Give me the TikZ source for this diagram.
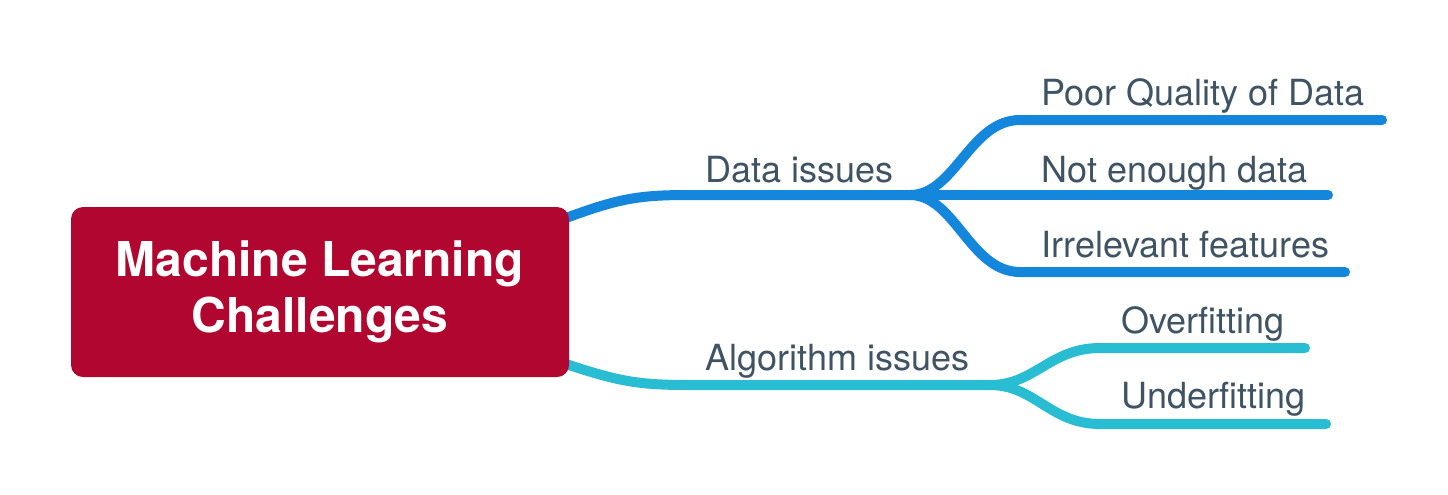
\documentclass[tikz,border=0pt]{standalone}
\usepackage{fontspec}
\setmainfont{TeX Gyre Heros}
\usepackage{tikz}
\usetikzlibrary{backgrounds}
\definecolor{mlred}{RGB}{176,6,48}
\definecolor{mlblue}{RGB}{20,135,220}
\definecolor{mlcyan}{RGB}{40,189,211}
\definecolor{mltext}{RGB}{62,83,99}

\begin{document}
\begin{tikzpicture}[x=0.5pt, y=-0.5pt,
    root/.style={fill=mlred, text=white, rounded corners=6pt, align=center,
      minimum width=249pt, minimum height=85pt, inner sep=0pt,
      font=\bfseries\fontsize{24}{28}\selectfont},
    lbl/.style={anchor=base west, inner sep=0pt, text=mltext,
      font=\fontsize{18}{20}\selectfont},
    databr/.style={line width=5pt, mlblue, line cap=round},
    algbr/.style={line width=5pt, mlcyan, line cap=round}]
      \useasboundingbox (0,0) rectangle (1448,494);

      \node [root] (root) at (320,292) {\raisebox{-3pt}{\parbox{240pt}{\centering Machine Learning\\Challenges}}};

      \node [lbl] (data)  at (705,182)  {Data issues};
      \node [lbl] (algo)  at (705,370)  {Algorithm issues};
      \node [lbl] (poor)  at (1041,105) {Poor Quality of Data};
      \node [lbl] (few)   at (1041,182) {Not enough data};
      \node [lbl] (irr)   at (1041,257) {Irrelevant features};
      \node [lbl] (over)  at (1121,333) {Overfitting};
      \node [lbl] (under) at (1121,408) {Underfitting};

      \coordinate (rd) at (566,218);
      \coordinate (ra) at (566,364);
      \coordinate (d0) at (690,195);
      \coordinate (d1) at (910,195);
      \coordinate (a0) at (690,385);
      \coordinate (a1) at (990,385);
      \coordinate (p0) at (1020,120);
      \coordinate (p1) at (1382,120);
      \coordinate (f1) at (1328,195);
      \coordinate (i0) at (1020,272);
      \coordinate (i1) at (1345,272);
      \coordinate (o0) at (1100,348);
      \coordinate (o1) at (1305,348);
      \coordinate (u0) at (1100,424);
      \coordinate (u1) at (1326,424);

      \begin{scope}[on background layer]
      \draw [databr] (rd) .. controls (620,198) and (640,195) .. (d0) -- (d1);
      \draw [algbr]  (ra) .. controls (620,382) and (640,385) .. (a0) -- (a1);

      \draw [databr] (d1) .. controls (955,195) and (970,120) .. (p0) -- (p1);
      \draw [databr] (d1) -- (f1);
      \draw [databr] (d1) .. controls (955,195) and (970,272) .. (i0) -- (i1);

      \draw [algbr] (a1) .. controls (1035,385) and (1050,348) .. (o0) -- (o1);
      \draw [algbr] (a1) .. controls (1035,385) and (1050,424) .. (u0) -- (u1);
      \end{scope}
\end{tikzpicture}
\end{document}
